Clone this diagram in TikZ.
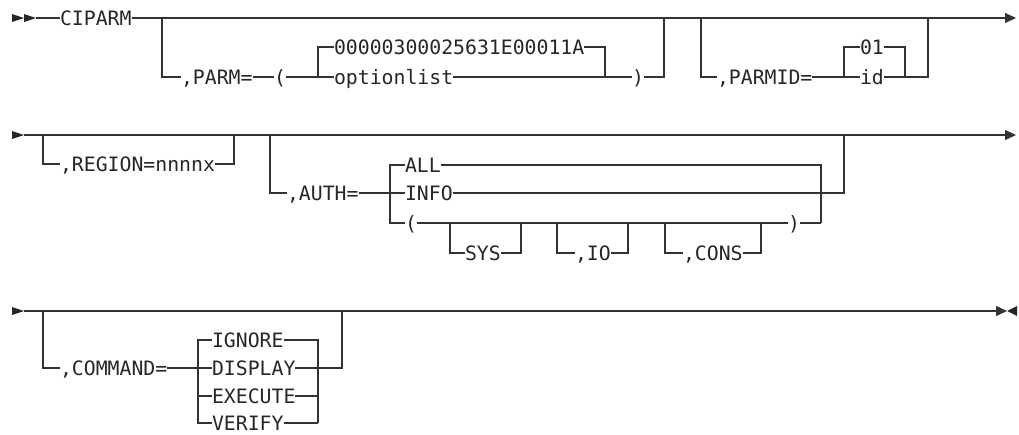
\documentclass[tikz,border=0pt]{standalone}
\usepackage{fontspec}
\setmonofont{DejaVu Sans Mono}
\usetikzlibrary{arrows.meta}

\begin{document}
\begin{tikzpicture}[x=1pt,y=-1pt,
  rail/.style={line width=1.1pt,black!80},
  kw/.style={anchor=west,inner sep=0pt,outer sep=0pt,text height=14pt,text depth=0pt,
    font=\ttfamily\fontsize{19.8}{22}\selectfont,text=black!85},
  endarr/.style={-{Triangle[length=11pt,width=10pt]}}]
  \useasboundingbox (0,0) rectangle (1019,434);

  % Row 1: CIPARM, PARM, PARMID
  \fill[black!85] (12,14)--(24,18)--(12,22)--cycle (24,14)--(36,18)--(24,22)--cycle;
  \coordinate (r1start) at (36,18);
  \coordinate (r1end) at (1016,18);
  \node[kw] (ciparm) at (60,18) {CIPARM};
  \draw[rail] (r1start) -- (ciparm.west);
  \draw[rail,endarr] (ciparm.east) -- (r1end);

  % PARM=( ... )
  \coordinate (p1) at (162,18);
  \coordinate (p2) at (318,77);
  \coordinate (p3) at (605,77);
  \coordinate (p4) at (664,18);
  \node[kw] (parm) at (181,77) {,PARM=};
  \node[kw] (lpar) at (274,77) {(};
  \node[kw] (pdef) at (334,47) {00000300025631E00011A};
  \node[kw] (plist) at (334,77) {optionlist};
  \node[kw] (rpar) at (632,77) {)};
  \draw[rail] (p1) |- (parm.west);
  \draw[rail] (parm.east) -- (lpar.west);
  \draw[rail] (lpar.east) -- (plist.west);
  \draw[rail] (p2) |- (pdef.west);
  \draw[rail] (pdef.east) -| (p3);
  \draw[rail] (plist.east) -- (rpar.west);
  \draw[rail] (rpar.east) -| (p4);

  % PARMID=
  \coordinate (q1) at (701,18);
  \coordinate (q2) at (844,77);
  \coordinate (q3) at (905,77);
  \coordinate (q4) at (928,18);
  \node[kw] (parmid) at (717,77) {,PARMID=};
  \node[kw] (q01) at (860,47) {01};
  \node[kw] (qid) at (860,77) {id};
  \draw[rail] (q1) |- (parmid.west);
  \draw[rail] (parmid.east) -- (qid.west);
  \draw[rail] (q2) |- (q01.west);
  \draw[rail] (q01.east) -| (q3);
  \draw[rail] (qid.east) -| (q4);

  % Row 2: REGION, AUTH
  \fill[black!85] (12,131)--(24,135)--(12,139)--cycle;
  \coordinate (r2start) at (24,135);
  \coordinate (r2end) at (1016,135);
  \draw[rail,endarr] (r2start) -- (r2end);

  \coordinate (g1) at (43,135);
  \coordinate (g2) at (234,135);
  \node[kw] (region) at (60,164) {,REGION=nnnnx};
  \draw[rail] (g1) |- (region.west);
  \draw[rail] (region.east) -| (g2);

  \coordinate (a1) at (270,135);
  \coordinate (a2) at (390,193);
  \coordinate (a3) at (821,223);
  \coordinate (a4) at (844,135);
  \node[kw] (auth) at (287,193) {,AUTH=};
  \node[kw] (aall) at (405,165) {ALL};
  \node[kw] (ainfo) at (405,193) {INFO};
  \node[kw] (alpar) at (405,223) {(};
  \node[kw] (arpar) at (788,223) {)};
  \draw[rail] (a1) |- (auth.west);
  \draw[rail] (auth.east) -- (ainfo.west);
  \draw[rail] (aall.west) -| (a2) |- (alpar.west);
  \draw[rail] (aall.east) -| (a3);
  \draw[rail] (ainfo.east) -| (a4);
  \draw[rail] (alpar.east) -- (arpar.west);
  \draw[rail] (arpar.east) -- (a3);

  % SYS / ,IO / ,CONS inside the parentheses
  \coordinate (s1) at (450,223);
  \coordinate (s2) at (521,223);
  \coordinate (i1) at (557,223);
  \coordinate (i2) at (628,223);
  \coordinate (k1) at (665,223);
  \coordinate (k2) at (761,223);
  \node[kw] (sys) at (465,253) {SYS};
  \node[kw] (io) at (575,253) {,IO};
  \node[kw] (cons) at (683,253) {,CONS};
  \draw[rail] (s1) |- (sys.west);
  \draw[rail] (sys.east) -| (s2);
  \draw[rail] (i1) |- (io.west);
  \draw[rail] (io.east) -| (i2);
  \draw[rail] (k1) |- (cons.west);
  \draw[rail] (cons.east) -| (k2);

  % Row 3: COMMAND
  \fill[black!85] (12,307)--(24,311)--(12,315)--cycle;
  \coordinate (r3start) at (24,311);
  \coordinate (r3end) at (1007,311);
  \draw[rail,endarr] (r3start) -- (r3end);
  \fill[black!85] (1017,306)--(1007,311)--(1017,316)--cycle;

  \coordinate (c1) at (43,311);
  \coordinate (c2) at (198,368);
  \coordinate (c3) at (318,423);
  \coordinate (c4) at (342,311);
  \node[kw] (command) at (60,368) {,COMMAND=};
  \node[kw] (cign) at (212,340) {IGNORE};
  \node[kw] (cdisp) at (212,368) {DISPLAY};
  \node[kw] (cexec) at (212,396) {EXECUTE};
  \node[kw] (cver) at (212,423) {VERIFY};
  \draw[rail] (c1) |- (command.west);
  \draw[rail] (command.east) -- (cdisp.west);
  \draw[rail] (cign.west) -| (c2) |- (cver.west);
  \draw[rail] (cexec.west) -- (cexec.west -| c2);
  \draw[rail] (cign.east) -| (c3);
  \draw[rail] (cexec.east) -- (cexec.east -| c3);
  \draw[rail] (cver.east) -- (c3);
  \draw[rail] (cdisp.east) -| (c4);

\end{tikzpicture}
\end{document}
